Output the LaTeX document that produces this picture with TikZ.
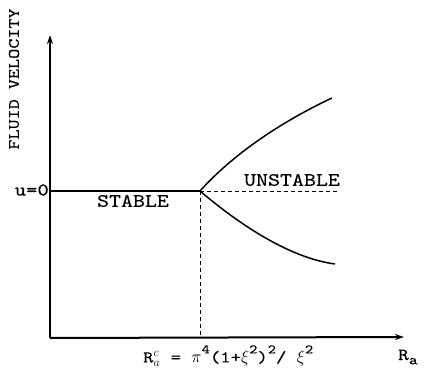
\documentclass[tikz,border=0pt]{standalone}
\usepackage{fontspec}
\newfontfamily\tw[FakeStretch=1.2,FakeBold=0.3]{lmmono10-regular.otf}
\usetikzlibrary{arrows.meta}
\newcommand{\twsize}[1]{\fontsize{#1}{#1}\selectfont}
\newcommand{\sps}[1]{\raisebox{0.55em}{\twsize{13}#1}}
\tikzset{
  lbl/.style={inner sep=0pt, font=\tw\twsize{19}},
  axisline/.style={line width=2pt, -{Stealth[length=9pt,width=6pt]}},
  curve/.style={line width=1.5pt},
  guide/.style={line width=1pt, dash pattern=on 4pt off 3pt}
}
\begin{document}
\begin{tikzpicture}[x=1pt,y=-1pt]
\useasboundingbox (0,0) rectangle (429,380);
\coordinate (O) at (50,338);
\coordinate (Ytop) at (50,35);
\coordinate (Xend) at (404,337);
\coordinate (Z) at (50,191);
\coordinate (C) at (200,191);
\coordinate (Cb) at (200,337);
\coordinate (Dend) at (337,191);
\coordinate (Up) at (332,98);
\coordinate (Lo) at (335,264);
\draw[axisline, line width=2.6pt] (O) -- (Ytop);
\draw[axisline] (O) -- (Xend);
\draw[line width=2pt] (Z) -- (C);
\draw[guide] (C) -- (Dend);
\draw[guide] (C) -- (Cb);
\draw[curve] (C) .. controls (235,152) and (285,120) .. (Up);
\draw[curve] (C) .. controls (240,225) and (290,258) .. (Lo);
\node[lbl, font=\tw\twsize{16}, rotate=90] (fv) at (14,79) {FLUID VELOCITY};
\node[lbl, font=\tw\twsize{18}, anchor=east] (u0) at (49,190) {u=0};
\node[lbl] (st) at (133,201) {STABLE};
\node[lbl] (un) at (292,180) {UNSTABLE};
\node[lbl, anchor=west, font=\tw\twsize{16.5}] (rc) at (143,356) {R$^{c}_{a}$ = $\pi$\sps{4}(1+$\xi$\sps{2})\sps{2}/ $\xi$\sps{2}};
\node[lbl, anchor=west, font=\tw\twsize{17}] (ra) at (398,357) {R\raisebox{-0.25em}{\twsize{14}a}};
\end{tikzpicture}
\end{document}
